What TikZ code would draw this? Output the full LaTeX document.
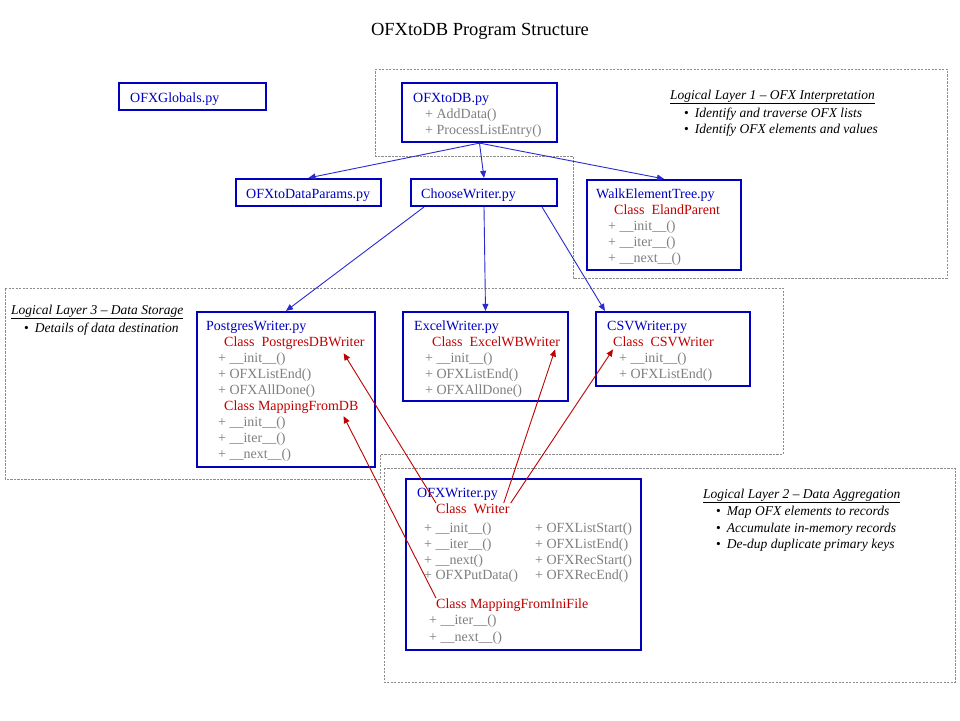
\documentclass[tikz,border=0pt]{standalone}
\usepackage{fontspec}
\setmainfont{Liberation Serif}
\usetikzlibrary{arrows.meta}

\definecolor{fileblue}{HTML}{0000C0}
\definecolor{linkblue}{HTML}{2A2AD0}
\definecolor{clsred}{HTML}{C00000}
\definecolor{methgray}{HTML}{7F7F7F}
\definecolor{layergray}{HTML}{8C8C8C}

\tikzset{
  filebox/.style={draw=fileblue, line width=2.2pt, inner sep=0pt},
  fname/.style={anchor=base west, inner sep=0pt, text=fileblue},
  cname/.style={anchor=base west, inner sep=0pt, text=clsred},
  meth/.style={anchor=base west, inner sep=0pt, text=methgray},
  note/.style={anchor=base west, inner sep=0pt, font=\fontsize{13.5}{16}\selectfont\itshape},
  layer/.style={draw=layergray, line width=0.9pt, dash pattern=on 2.2pt off 1.3pt},
  calls/.style={->, draw=linkblue, line width=0.9pt},
  impl/.style={->, draw=clsred, line width=0.9pt},
}

\begin{document}
\begin{tikzpicture}[x=1pt,y=-1pt,>={Triangle[length=7pt,width=6pt]},
    font=\fontsize{14}{16}\selectfont]
    \path[fill=white,use as bounding box] (0,0) rectangle (960,720);

    \node[font=\fontsize{18.5}{22}\selectfont] (title) at (480,31) {OFXtoDB Program Structure};

    % logical layers
    \draw[layer] (375,69) -- (947,69) -- (947,278) -- (573,278) -- (573,156) -- (375,156) -- cycle;
    \node[note] (l1head) at (670,99) {\underline{Logical Layer 1 -- OFX Interpretation}};
    \foreach \y/\lab [count=\i] in {117/Identify and traverse OFX lists,133/Identify OFX elements and values}
        \node[note] (l1pt\i) at (684,\y) {{\upshape\textbullet}\hspace{6pt}\lab};

    \draw[layer] (5,288) -- (783,288) -- (783,454) -- (380,454) -- (380,479) -- (5,479) -- cycle;
    \node[note] (l3head) at (11,314) {\underline{Logical Layer 3 -- Data Storage}};
    \node[note] (l3pt1) at (24,332) {{\upshape\textbullet}\hspace{6pt}Details of data destination};

    \draw[layer] (384,468) rectangle (955,682);
    \node[note] (l2head) at (703,498) {\underline{Logical Layer 2 -- Data Aggregation}};
    \foreach \y/\lab [count=\i] in {515/Map OFX elements to records,532/Accumulate in-memory records,548/De-dup duplicate primary keys}
        \node[note] (l2pt\i) at (716,\y) {{\upshape\textbullet}\hspace{6pt}\lab};

    % top row
    \node[filebox, minimum width=147pt, minimum height=27pt] (globals) at (192.5,96.5) {};
    \node[fname] (globalsname) at (130,102) {OFXGlobals.py};

    \node[filebox, minimum width=155pt, minimum height=59pt] (todb) at (479.5,112.5) {};
    \node[fname] (todbname) at (413,102) {OFXtoDB.py};
    \foreach \y/\lab [count=\i] in {118/AddData(),134/ProcessListEntry()}
        \node[meth] (todbm\i) at (425,\y) {+ \lab};

    % second row
    \node[filebox, minimum width=145pt, minimum height=27pt] (params) at (308.5,192.5) {};
    \node[fname] (paramsname) at (246,198) {OFXtoDataParams.py};

    \node[filebox, minimum width=146pt, minimum height=27pt] (chooser) at (484,192.5) {};
    \node[fname] (choosername) at (421,198) {ChooseWriter.py};

    \node[filebox, minimum width=154pt, minimum height=90pt] (walker) at (664,225) {};
    \node[fname] (walkername) at (596,198) {WalkElementTree.py};
    \node[cname] (walkcls) at (614,214) {Class~~ElandParent};
    \foreach \y/\lab [count=\i] in {230/\_\_init\_\_(),246/\_\_iter\_\_(),262/\_\_next\_\_()}
        \node[meth] (walkm\i) at (608,\y) {+ \lab};

    % writers
    \node[filebox, minimum width=178pt, minimum height=155pt] (pgw) at (286,389.5) {};
    \node[fname] (pgwname) at (206,330) {PostgresWriter.py};
    \node[cname] (pgcls) at (224,346) {Class~~PostgresDBWriter};
    \foreach \y/\lab [count=\i] in {362/\_\_init\_\_(),378/OFXListEnd(),394/OFXAllDone()}
        \node[meth] (pgm\i) at (218,\y) {+ \lab};
    \node[cname] (pgmapcls) at (224,410) {Class MappingFromDB};
    \foreach \y/\lab [count=\i] in {426/\_\_init\_\_(),442/\_\_iter\_\_(),458/\_\_next\_\_()}
        \node[meth] (pgmapm\i) at (218,\y) {+ \lab};

    \node[filebox, minimum width=165pt, minimum height=89pt] (excel) at (485.5,356.5) {};
    \node[fname] (excelname) at (414,330) {ExcelWriter.py};
    \node[cname] (excls) at (432,346) {Class~~ExcelWBWriter};
    \foreach \y/\lab [count=\i] in {362/\_\_init\_\_(),378/OFXListEnd(),394/OFXAllDone()}
        \node[meth] (exm\i) at (425,\y) {+ \lab};

    \node[filebox, minimum width=154pt, minimum height=74pt] (csvw) at (673,349) {};
    \node[fname] (csvwname) at (607,330) {CSVWriter.py};
    \node[cname] (csvcls) at (613,346) {Class~~CSVWriter};
    \foreach \y/\lab [count=\i] in {362/\_\_init\_\_(),378/OFXListEnd()}
        \node[meth] (csvm\i) at (619,\y) {+ \lab};

    % base writer
    \node[filebox, minimum width=235pt, minimum height=171pt] (ofxw) at (523.5,564.5) {};
    \node[fname] (ofxwname) at (417,497) {OFXWriter.py};
    \node[cname] (wrcls) at (436,513) {Class~~Writer};
    \foreach \y/\lab [count=\i] in {532/\_\_init\_\_(),548/\_\_iter\_\_(),564/\_\_next(),579/OFXPutData()}
        \node[meth] (wrm\i) at (424,\y) {+ \lab};
    \foreach \y/\lab [count=\i] in {532/OFXListStart(),548/OFXListEnd(),564/OFXRecStart(),579/OFXRecEnd()}
        \node[meth] (wrn\i) at (535,\y) {+ \lab};
    \node[cname] (inicls) at (436,608) {Class MappingFromIniFile};
    \foreach \y/\lab [count=\i] in {624/\_\_iter\_\_(),641/\_\_next\_\_()}
        \node[meth] (inim\i) at (429,\y) {+ \lab};

    % calls
    \draw[calls] (todb.south) -- (params.north);
    \draw[calls] (todb.south) -- (chooser.north);
    \draw[calls] (todb.south) -- (walker.north);
    \draw[calls] ([xshift=14pt]chooser.south west) -- (pgw.north);
    \draw[calls] (chooser.south) -- (excel.north);
    \draw[calls] ([xshift=-16pt]chooser.south east) -- ([xshift=10pt]csvw.north west);

    % subclasses
    \draw[impl] (wrcls.north west) -- ([xshift=-21pt,yshift=-4pt]pgcls.south east);
    \draw[impl] ([xshift=-6pt]wrcls.north east) -- ([xshift=-5pt,yshift=-3pt]excls.south east);
    \draw[impl] ([xshift=1pt]wrcls.north east) -- ([yshift=-3pt]csvcls.south west);
    \draw[impl] (inicls.north west) -- ([xshift=-15pt,yshift=-3pt]pgmapcls.south east);
\end{tikzpicture}
\end{document}
